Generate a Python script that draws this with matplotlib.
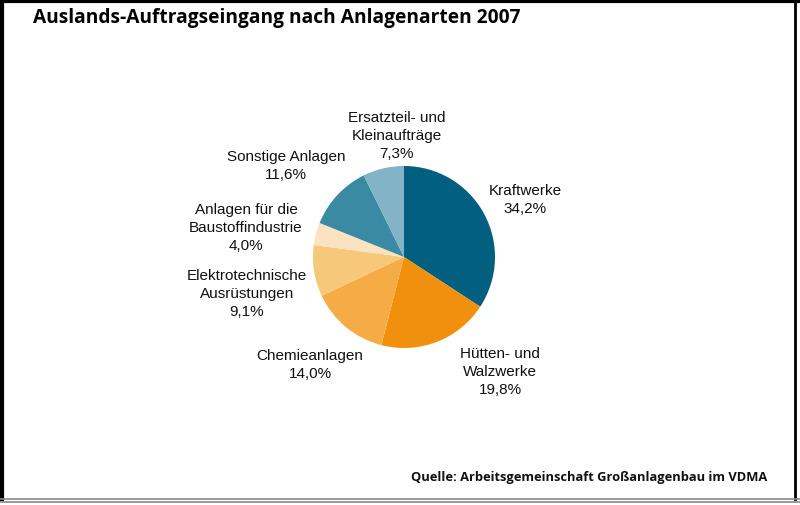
import matplotlib
matplotlib.use('Agg')
import matplotlib.pyplot as plt
from matplotlib.lines import Line2D

# data
categories = ['Kraftwerke', 'Hütten- und\nWalzwerke', 'Chemieanlagen',
              'Elektrotechnische\nAusrüstungen', 'Anlagen für die\nBaustoffindustrie',
              'Sonstige Anlagen', 'Ersatzteil- und\nKleinaufträge']
shares = [34.2, 19.8, 14.0, 9.1, 4.0, 11.6, 7.3]
colors = ['#035f80', '#f0900c', '#f5ac45', '#f8c87a', '#fbe3c2', '#3a8aa4', '#82b3c6']

# label anchor positions in pixels (layout only)
label_pos = [(525, 200), (500, 372), (310, 365), (247, 294),
             (246, 228), (286, 166), (397, 136)]

plt.rcParams['font.family'] = ['Liberation Sans', 'DejaVu Sans']

fig = plt.figure(figsize=(8, 5.06), dpi=100)
ax = fig.add_axes([0, 0, 1, 1])
ax.set_xlim(0, 800)
ax.set_ylim(506, 0)
ax.axis('off')

# pie drawn in its own axes so wedges keep the usual clockwise order
pax = fig.add_axes([(404 - 91) / 800, 1 - (258 + 91) / 506, 182 / 800, 182 / 506])
pax.pie(shares, colors=colors, startangle=90, counterclock=False,
        wedgeprops=dict(linewidth=0))
pax.set_xlim(-1, 1)
pax.set_ylim(-1, 1)
pax.set_aspect('equal')

for name, val, (x, y) in zip(categories, shares, label_pos):
    txt = name + '\n' + f'{val:.1f}'.replace('.', ',') + '%'
    ax.text(x, y, txt, ha='center', va='center', fontsize=11, color='#111111',
            linespacing=1.4)

ax.text(33, 18, 'Auslands-Auftragseingang nach Anlagenarten 2007', fontsize=13.8,
        fontweight='bold', family=['Open Sans', 'DejaVu Sans'], va='center', ha='left')
ax.text(767, 478, 'Quelle: Arbeitsgemeinschaft Großanlagenbau im VDMA', fontsize=9.3,
        fontweight='bold', family=['Open Sans', 'DejaVu Sans'], va='center', ha='right',
        color='#111111')

# frame
fig.add_artist(Line2D([0, 1], [1 - 1.5 / 506] * 2, color='black', lw=3, transform=fig.transFigure))
fig.add_artist(Line2D([1.5 / 800] * 2, [1 - 500 / 506, 1], color='black', lw=3, transform=fig.transFigure))
fig.add_artist(Line2D([795 / 800] * 2, [1 - 500 / 506, 1 - 4 / 506], color='black', lw=2, transform=fig.transFigure))
fig.add_artist(Line2D([0, 1], [1 - 500 / 506] * 2, color='#888888', lw=1.2, transform=fig.transFigure))
fig.add_artist(Line2D([0, 1], [1 - 503 / 506] * 2, color='#888888', lw=1.2, transform=fig.transFigure))

fig.savefig('out.png', dpi=100)
